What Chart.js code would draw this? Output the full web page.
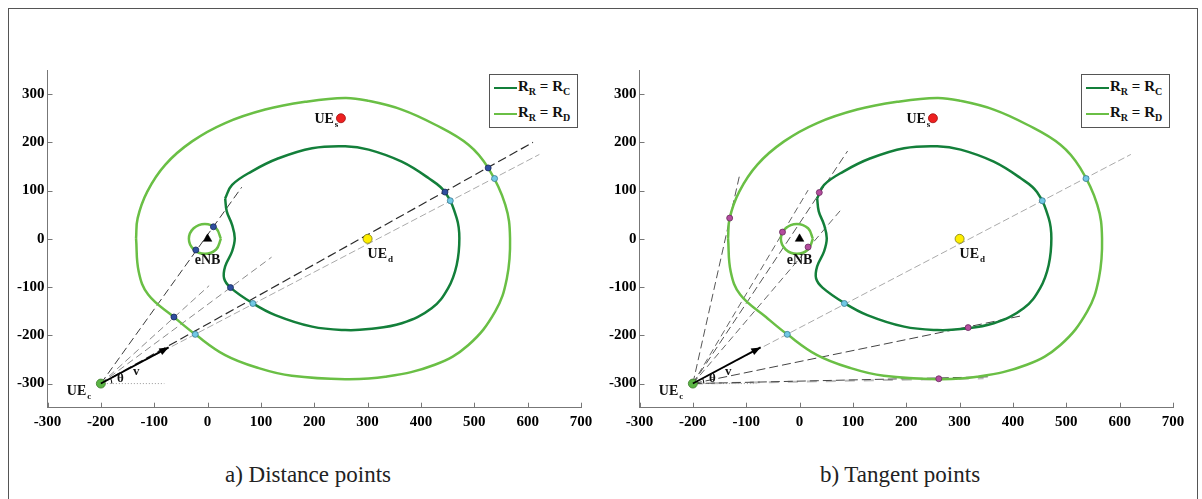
<!DOCTYPE html>
<html><head><meta charset="utf-8">
<script src="https://cdn.jsdelivr.net/npm/chart.js@4.4.1/dist/chart.umd.min.js"></script>
<style>
html,body{margin:0;padding:0;background:#fff;width:1202px;height:499px;overflow:hidden;font-family:'Liberation Serif',serif;}
#frame{position:absolute;left:8px;top:8px;width:1190px;height:520px;border:1px solid #555;box-sizing:border-box;}
canvas{position:absolute;top:0;}
.cap{position:absolute;top:462px;width:320px;text-align:center;font-size:23px;color:#222;line-height:26px;white-space:nowrap;}
.leg{position:absolute;border:1px solid #555;background:#fff;box-sizing:border-box;width:89px;height:54px;top:74px;}
.leg .ln{position:absolute;left:4px;width:23px;height:2.5px;}
.leg .tx{position:absolute;left:28px;font-weight:bold;font-size:15px;line-height:15px;color:#111;white-space:nowrap;}
.leg sub{font-size:10px;vertical-align:-4px;line-height:0;}
</style></head>
<body>
<div id="frame"></div>
<canvas id="ca" width="600" height="440" style="left:0px"></canvas>
<canvas id="cb" width="600" height="440" style="left:592px"></canvas>
<div class="leg" style="left:489px">
  <div class="ln" style="top:11.5px;background:#137f3a"></div>
  <div class="tx" style="top:4px">R<sub>R</sub> = R<sub>C</sub></div>
  <div class="ln" style="top:37.5px;background:#6abf45"></div>
  <div class="tx" style="top:30px">R<sub>R</sub> = R<sub>D</sub></div>
</div>
<div class="leg" style="left:1081px">
  <div class="ln" style="top:11.5px;background:#137f3a"></div>
  <div class="tx" style="top:4px">R<sub>R</sub> = R<sub>C</sub></div>
  <div class="ln" style="top:37.5px;background:#6abf45"></div>
  <div class="tx" style="top:30px">R<sub>R</sub> = R<sub>D</sub></div>
</div>
<div class="cap" style="left:148px">a) Distance points</div>
<div class="cap" style="left:740px">b) Tangent points</div>
<script>
// ---- data ----
const xTicks = [-300,-200,-100,0,100,200,300,400,500,600,700];
const yTicks = [-300,-200,-100,0,100,200,300];

// R_R = R_D (outer curve)
const outerX = [-134,-131,-113,-79,-29,33,108,183,258,302,364,426,489,526,558,567,561,539,489,426,333,258,158,96,33,-23,-63,-111,-129,-134];
const outerY = [1,43,98,154,202,240,268,284,292,286,268,237,195,147,71,1,-82,-151,-220,-261,-286,-291,-284,-268,-241,-198,-162,-116,-68,1];
// R_R = R_C (inner curve)
const innerX = [33,46,83,133,196,258,302,364,414,445,467,472,467,451,420,364,302,258,196,127,84,43,31,33,46,51,46,36,33];
const innerY = [84,112,140,167,188,192,185,160,126,97,43,1,-54,-102,-144,-175,-187,-189,-182,-158,-133,-101,-82,-57,-26,1,29,57,84];
// R_R = R_D small ring around eNB
const ringX = [25,16,-5,-26,-35,-26,-5,16,25];
const ringY = [0,22,31,22,0,-22,-31,-22,0];

const ueC = [-200,-300], eNB = [0,0], ueD = [300,0], ueS = [250,250];
const vTip = [-73,-225];
const thetaRefEnd = [-81,-300];

// (a) distance points
const aLineEndX = [64,120,3,610,622];
const aLineEndY = [107,-38,-97,200,175];
const aBlueX = [11,-22,-63,43,445,526];
const aBlueY = [25,-23,-162,-101,97,147];
const aCyanX = [-23,85,455,538];
const aCyanY = [-198,-134,79,125];

// (b) tangent points
const bLineEndX = [-112,90,16,79,621,414,353,345];
const bLineEndY = [134,182,101,62,175,-160,-286,-289];
const bMagX = [-131,37,-32,16,316,261];
const bMagY = [43,96,14,-17,-184,-290];
const bCyanX = [-23,84,455,537];
const bCyanY = [-198,-134,79,125];

// ---- styles ----
const aLineStyle = [
  {c:'#3a3a3a',w:1,d:[8,4]},
  {c:'#8a8a8a',w:1,d:[7,4]},
  {c:'#8a8a8a',w:1,d:[7,4]},
  {c:'#2a2a2a',w:1.2,d:[9,4]},
  {c:'#aaaaaa',w:1,d:[7,3]}
];
const bLineStyle = [
  {c:'#555',w:1,d:[8,4]},
  {c:'#555',w:1,d:[8,4]},
  {c:'#666',w:1,d:[7,4]},
  {c:'#666',w:1,d:[7,4]},
  {c:'#aaaaaa',w:1,d:[7,3]},
  {c:'#444',w:1,d:[9,4]},
  {c:'#444',w:1,d:[9,4]},
  {c:'#bbbbbb',w:2,d:[10,9]}
];

const pts = (xs,ys) => xs.map((x,i)=>({x:x,y:ys[i]}));

function markerSet(xs,ys,fill,stroke,r){
  return {data:pts(xs,ys),showLine:false,pointRadius:r,pointBackgroundColor:fill,pointBorderColor:stroke,pointBorderWidth:0.8};
}

function buildDatasets(lineEndX,lineEndY,styles,extraMarkers){
  const ds = [];
  ds.push({data:[{x:eNB[0],y:eNB[1]}],showLine:false,pointStyle:'triangle',pointRadius:5,pointBackgroundColor:'#000',pointBorderColor:'#000',pointBorderWidth:0.5});
  ds.push(markerSet([ueC[0]],[ueC[1]],'#5bb544','#3a7a2a',4.5));
  ds.push(markerSet([ueD[0]],[ueD[1]],'#ffee00','#7a7a10',4.5));
  ds.push(markerSet([ueS[0]],[ueS[1]],'#ee2020','#a01010',4.5));
  extraMarkers.forEach(m=>ds.push(m));
  ds.push({data:pts(innerX,innerY),showLine:true,borderColor:'#137f3a',borderWidth:2.5,pointRadius:0,tension:0.4,fill:false});
  ds.push({data:pts(outerX,outerY),showLine:true,borderColor:'#6abf45',borderWidth:2.5,pointRadius:0,tension:0.4,fill:false});
  ds.push({data:pts(ringX,ringY),showLine:true,borderColor:'#6abf45',borderWidth:2.5,pointRadius:0,tension:0.4,fill:false});
  lineEndX.forEach((ex,i)=>{
    const s = styles[i];
    ds.push({data:[{x:ueC[0],y:ueC[1]},{x:ex,y:lineEndY[i]}],showLine:true,borderColor:s.c,borderWidth:s.w,borderDash:s.d,pointRadius:0,tension:0});
  });
  ds.push({data:[{x:ueC[0],y:ueC[1]},{x:thetaRefEnd[0],y:thetaRefEnd[1]}],showLine:true,borderColor:'#999',borderWidth:1,borderDash:[1,2],pointRadius:0});
  return ds;
}

function subText(ctx,x,y,main,sub,align){
  ctx.font = 'bold 14px "Liberation Serif"';
  const w1 = ctx.measureText(main).width;
  ctx.font = 'bold 9px "Liberation Serif"';
  const w2 = ctx.measureText(sub).width;
  let left = x;
  if(align==='center') left = x-(w1+w2)/2;
  if(align==='right') left = x-(w1+w2);
  ctx.textAlign='left';ctx.textBaseline='alphabetic';ctx.fillStyle='#111';
  ctx.font = 'bold 14px "Liberation Serif"';
  ctx.fillText(main,left,y);
  if(sub){ctx.font='bold 9px "Liberation Serif"';ctx.fillText(sub,left+w1+1,y+4);}
}

const annot = {
  id:'annot',
  afterDatasetsDraw(chart){
    const ctx = chart.ctx, sx = chart.scales.x, sy = chart.scales.y;
    const P = (a,b)=>[sx.getPixelForValue(a),sy.getPixelForValue(b)];
    ctx.save();
    ctx.strokeStyle='#777';ctx.lineWidth=1;ctx.beginPath();
    xTicks.forEach(v=>{const px=Math.round(sx.getPixelForValue(v))+0.5;ctx.moveTo(px,sy.bottom);ctx.lineTo(px,sy.bottom-5);});
    yTicks.forEach(v=>{const py=Math.round(sy.getPixelForValue(v))+0.5;ctx.moveTo(sx.left,py);ctx.lineTo(sx.left+5,py);});
    ctx.stroke();
    const [x0,y0]=P(ueC[0],ueC[1]);const [x1,y1]=P(vTip[0],vTip[1]);
    ctx.strokeStyle='#000';ctx.fillStyle='#000';ctx.lineWidth=1.8;
    ctx.beginPath();ctx.moveTo(x0,y0);ctx.lineTo(x1,y1);ctx.stroke();
    const ang=Math.atan2(y1-y0,x1-x0);const hl=10,hw=0.38;
    ctx.beginPath();
    ctx.moveTo(x1,y1);
    ctx.lineTo(x1-hl*Math.cos(ang-hw),y1-hl*Math.sin(ang-hw));
    ctx.lineTo(x1-hl*Math.cos(ang+hw),y1-hl*Math.sin(ang+hw));
    ctx.closePath();ctx.fill();
    ctx.lineWidth=1;ctx.beginPath();ctx.arc(x0,y0,11,ang,0);ctx.stroke();
    ctx.font='bold 13px "Liberation Serif"';ctx.textAlign='center';ctx.textBaseline='middle';ctx.fillStyle='#111';
    ctx.fillText('\u03b8',x0+19.5,y0-5);
    ctx.fillText('v',x0+35.5,y0-11.5);
    const [sxp,syp]=P(ueS[0],ueS[1]);subText(ctx,sxp-26.5,syp+5,'UE','s','left');
    const [dxp,dyp]=P(ueD[0],ueD[1]);subText(ctx,dxp,dyp+19,'UE','d','left');
    const [exp,eyp]=P(eNB[0],eNB[1]);subText(ctx,exp,eyp+25,'eNB','', 'center');
    subText(ctx,x0-34,y0+11,'UE','c','left');
    ctx.restore();
  }
};

function makeChart(id,datasets){
  return new Chart(document.getElementById(id),{
    type:'scatter',
    data:{datasets:datasets},
    options:{
      responsive:false,animation:false,
      layout:{padding:{left:0,top:70,right:19,bottom:0}},
      plugins:{legend:{display:false},tooltip:{enabled:false}},
      elements:{line:{capBezierPoints:false}},
      scales:{
        x:{type:'linear',min:-300,max:700,
          afterBuildTicks:s=>{s.ticks=xTicks.map(v=>({value:v}));},
          afterFit:s=>{s.height=32.3;},
          ticks:{color:'#000',padding:5,maxRotation:0,autoSkip:false,font:{family:'Liberation Serif',size:15,weight:'bold'}},
          grid:{display:false,drawTicks:false},
          border:{display:true,color:'#777',width:1}},
        y:{type:'linear',min:-350,max:350,
          afterBuildTicks:s=>{s.ticks=yTicks.map(v=>({value:v}));},
          afterFit:s=>{s.width=47.5;},
          ticks:{color:'#000',padding:3,autoSkip:false,font:{family:'Liberation Serif',size:15,weight:'bold'}},
          grid:{display:false,drawTicks:false},
          border:{display:true,color:'#777',width:1}}
      }
    },
    plugins:[annot]
  });
}

makeChart('ca',buildDatasets(aLineEndX,aLineEndY,aLineStyle,[
  markerSet(aBlueX,aBlueY,'#2f4f9f','#1a2a5a',3),
  markerSet(aCyanX,aCyanY,'#70c8e4','#3a7a92',3)
]));
makeChart('cb',buildDatasets(bLineEndX,bLineEndY,bLineStyle,[
  markerSet(bMagX,bMagY,'#b44d9e','#6a2a5e',3),
  markerSet(bCyanX,bCyanY,'#70c8e4','#3a7a92',3)
]));
</script>
</body></html>
